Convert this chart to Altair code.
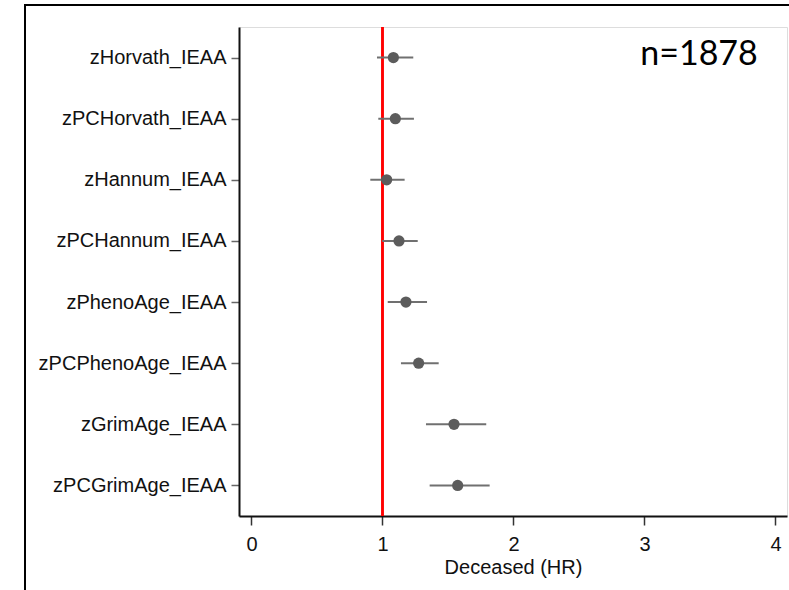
import altair as alt
import pandas as pd

names = ["zHorvath_IEAA", "zPCHorvath_IEAA", "zHannum_IEAA", "zPCHannum_IEAA",
         "zPhenoAge_IEAA", "zPCPhenoAge_IEAA", "zGrimAge_IEAA", "zPCGrimAge_IEAA"]
hr = [1.083, 1.098, 1.032, 1.126, 1.179, 1.276, 1.546, 1.574]
lo = [0.958, 0.968, 0.907, 0.998, 1.040, 1.141, 1.332, 1.360]
hi = [1.235, 1.240, 1.169, 1.269, 1.340, 1.429, 1.792, 1.818]
x_ticks = [0, 1, 2, 3, 4]

df = pd.DataFrame({"name": names, "hr": hr, "lo": lo, "hi": hi})

FONT = "Liberation Sans"

x_scale = alt.Scale(domain=[-0.0954, 4.088], nice=False, zero=False)
y_enc = alt.Y("name:N", sort=names,
              scale=alt.Scale(type="point", padding=0.5),
              axis=alt.Axis(title=None, labelFontSize=20, labelFont=FONT,
                            labelColor="#111", tickSize=8, tickColor="#666",
                            tickWidth=1.5, labelPadding=5, domainColor="#111",
                            domainWidth=2, labelLimit=400))

ci = alt.Chart(df).mark_rule(color="#707070", strokeWidth=2).encode(
    x=alt.X("lo:Q", scale=x_scale,
            axis=alt.Axis(values=x_ticks, format="d", title="Deceased (HR)",
                          labelFontSize=20, labelFont=FONT, labelColor="#111",
                          titleFontSize=20, titleFont=FONT, titleFontWeight="normal",
                          titleColor="#111", titlePadding=3, tickSize=9,
                          tickColor="#333", tickWidth=1.5, labelPadding=9,
                          domainColor="#111", domainWidth=2, grid=False)),
    x2="hi:Q",
    y=y_enc,
)

pts = alt.Chart(df).mark_circle(color="#5c5c5c", opacity=1, size=125).encode(
    x=alt.X("hr:Q", scale=x_scale),
    y=alt.Y("name:N", sort=names),
)

ref = alt.Chart(df).mark_rule(color="#ff0000", strokeWidth=1.6).encode(
    x=alt.datum(1, scale=x_scale)
)

border_left = alt.Chart(df).mark_rule(color="#000", strokeWidth=2).encode(
    x=alt.value(-214), y=alt.value(-22), y2=alt.value(600)
)
border_top = alt.Chart(df).mark_rule(color="#000", strokeWidth=2).encode(
    x=alt.value(-215), x2=alt.value(560), y=alt.value(-22)
)

label = alt.Chart(pd.DataFrame({"t": ["n=1878"]})).mark_text(
    font="Lato", fontSize=34, color="#000", align="center", baseline="middle"
).encode(text="t:N", x=alt.value(460), y=alt.value(28))

chart = alt.layer(ref, ci, pts, border_left, border_top, label).properties(
    width=548, height=489,
    autosize=alt.AutoSizeParams(type="none"),
    padding={"left": 239, "top": 27, "right": 2, "bottom": 74},
).configure_view(stroke="#555", strokeWidth=1.5).configure(background="white")

chart.save("out.html", embed_options={"renderer": "svg", "actions": False})
